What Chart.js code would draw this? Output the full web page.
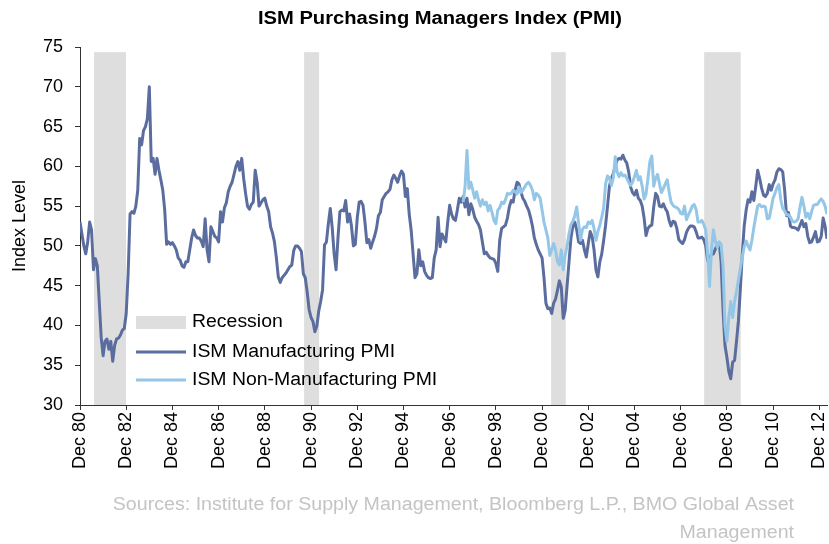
<!DOCTYPE html>
<html>
<head>
<meta charset="utf-8">
<script src="https://cdn.jsdelivr.net/npm/chart.js@4/dist/chart.umd.min.js"></script>
<style>
  html, body { margin: 0; padding: 0; background: #fff; }
  #wrap { width: 829px; height: 544px; }
</style>
</head>
<body>
<div id="wrap"><canvas id="pmiChart" width="829" height="544"></canvas></div>
<script>
// months counted from Dec 1980 (index 0) to Apr 2013 (index 388)
const tickLabels = ['Dec 80', 'Dec 82', 'Dec 84', 'Dec 86', 'Dec 88', 'Dec 90', 'Dec 92', 'Dec 94',
    'Dec 96', 'Dec 98', 'Dec 00', 'Dec 02', 'Dec 04', 'Dec 06', 'Dec 08', 'Dec 10', 'Dec 12'];

// recession bands, in months from Dec 1980
const recessionStart = [7.3, 116.4, 244.7, 324.2];
const recessionEnd = [23.9, 124.2, 252.3, 343.2];

// ISM Manufacturing PMI, Dec 1980 .. Apr 2013
const mfgPmi = [
    53.0,
    51.5, 50.0, 49.0, 50.5, 53.0, 52.0, 47.0, 48.4, 47.5, 43.0, 38.5, 36.2,   // 81
    38.0, 38.3, 37.0, 38.0, 35.5, 37.5, 38.3, 38.4, 38.8, 39.4, 39.6, 41.5,   // 82
    46.5, 54.0, 54.3, 54.1, 55.0, 57.0, 63.5, 62.7, 64.5, 65.0, 66.0, 70.0,   // 83
    60.6, 61.0, 59.0, 61.0, 59.5, 58.3, 57.0, 54.5, 50.2, 50.5, 50.2, 50.4,   // 84
    50.0, 49.5, 48.5, 48.2, 47.5, 47.3, 48.0, 48.0, 49.5, 51.0, 52.0, 51.3,   // 85
    51.0, 51.0, 50.6, 49.9, 53.4, 49.5, 48.0, 52.4, 51.8, 51.2, 51.0, 50.5,   // 86
    54.3, 53.0, 54.8, 55.4, 56.8, 57.5, 58.0, 59.0, 60.0, 60.6, 59.5, 61.0,   // 87
    58.5, 56.6, 55.0, 54.6, 55.2, 55.5, 59.5, 58.0, 55.0, 55.4, 55.8, 56.0,   // 88
    55.0, 54.3, 52.4, 51.6, 50.5, 48.5, 46.1, 45.4, 46.0, 46.3, 46.6, 47.0,   // 89
    47.4, 47.6, 49.4, 50.0, 50.0, 49.7, 49.3, 46.5, 46.0, 44.2, 42.0, 41.0,   // 90
    40.5, 39.2, 39.9, 41.8, 43.0, 44.5, 50.1, 50.5, 52.8, 54.7, 52.3, 49.0,   // 91
    47.0, 51.0, 54.3, 54.5, 54.4, 55.7, 53.0, 54.0, 52.5, 50.0, 50.2, 53.5,   // 92
    55.5, 55.6, 55.1, 53.0, 50.4, 50.8, 49.7, 50.5, 51.2, 52.2, 53.8, 54.2,   // 93
    55.8, 56.2, 56.6, 56.8, 57.1, 58.3, 58.9, 58.5, 58.0, 58.8, 59.4, 59.0,   // 94
    56.2, 57.2, 54.0, 52.0, 49.0, 46.0, 46.5, 49.5, 47.5, 48.0, 46.8, 46.3,   // 95
    46.0, 45.9, 46.0, 48.5, 49.5, 53.6, 49.9, 51.5, 51.0, 50.5, 53.0, 55.1,   // 96
    54.0, 53.4, 53.2, 54.5, 56.0, 55.5, 56.2, 54.9, 56.0, 53.9, 55.3, 54.6,   // 97
    53.6, 53.1, 52.7, 52.0, 50.5, 49.0, 49.2, 48.8, 48.5, 48.4, 48.3, 47.8,   // 98
    46.8, 50.7, 52.2, 52.4, 52.6, 53.5, 54.9, 55.7, 55.5, 57.0, 58.0, 57.8,   // 99
    56.8, 56.0, 55.6, 55.0, 54.5, 53.6, 52.5, 51.0, 50.2, 49.5, 49.0, 48.5,   // 00
    46.0, 42.8, 42.1, 42.2, 41.5, 42.8, 43.3, 44.4, 45.6, 44.8, 40.9, 41.9,   // 01
    45.0, 48.0, 51.0, 52.5, 53.0, 52.0, 50.5, 50.3, 50.7, 49.5, 48.6, 50.3,   // 02
    51.8, 51.2, 49.5, 47.0, 46.1, 48.0, 49.0, 50.7, 52.6, 55.0, 57.5, 58.5,   // 03
    59.1, 60.0, 60.8, 61.0, 60.9, 61.4, 60.8, 60.4, 59.3, 57.4, 56.7, 56.4,   // 04
    57.0, 56.0, 55.7, 55.0, 53.5, 51.3, 52.2, 52.5, 52.6, 54.9, 56.6, 56.2,   // 05
    55.0, 54.9, 55.3, 54.7, 54.3, 53.2, 52.5, 53.1, 53.0, 52.2, 50.8, 50.5,   // 06
    50.3, 50.8, 51.7, 52.2, 52.5, 52.5, 52.4, 51.8, 51.0, 51.0, 51.1, 50.8,   // 07
    50.0, 48.2, 48.5, 48.9, 49.0, 49.6, 50.2, 50.4, 48.0, 42.0, 37.5, 36.0,   // 08
    34.2, 33.3, 35.4, 35.6, 38.0, 40.6, 44.6, 49.0, 52.5, 54.5, 55.8, 55.5,   // 09
    56.8, 55.7, 57.5, 59.5, 58.5, 57.3, 56.4, 56.2, 56.6, 57.7, 57.0, 57.8,   // 10
    58.3, 59.3, 59.7, 59.6, 59.3, 57.0, 53.8, 54.2, 52.5, 52.3, 52.3, 52.2,   // 11
    52.0, 52.6, 53.2, 52.4, 52.8, 51.2, 50.4, 50.5, 51.1, 51.8, 50.5, 50.6,   // 12
    51.2, 53.5, 52.5, 50.9                                                    // 13
];

// ISM Non-Manufacturing PMI, Jul 1997 .. Apr 2013
const nonMfgStart = 199;
const nonMfgPmi = [
    55.5, 57.4, 62.0, 57.2, 58.0, 57.0,                                       // 97
    56.0, 56.8, 55.8, 55.0, 55.8, 55.2, 55.5, 54.4, 55.1, 54.2, 53.2, 52.8,   // 98
    54.5, 54.8, 55.5, 55.3, 55.8, 56.6, 56.5, 56.6, 57.0, 56.8, 56.5, 57.4,   // 99
    56.7, 57.0, 57.4, 57.8, 58.0, 57.6, 57.0, 55.8, 56.6, 56.4, 56.0, 54.5,   // 00
    53.0, 52.0, 51.0, 48.8, 49.5, 50.3, 49.5, 48.0, 47.6, 49.5, 47.0, 48.8,   // 01
    50.0, 51.5, 52.7, 53.1, 53.8, 54.9, 52.8, 50.7, 52.1, 52.4, 52.3, 53.0,   // 02
    52.8, 53.2, 52.2, 50.7, 51.8, 52.6, 53.6, 54.8, 57.8, 58.8, 58.5, 57.6,   // 03
    58.5, 61.2, 59.3, 58.7, 59.2, 58.8, 58.9, 58.5, 58.0, 57.6, 58.0, 58.7,   // 04
    59.5, 58.3, 58.7, 57.5, 55.9, 56.5, 58.5, 60.6, 61.3, 57.5, 58.5, 59.0,   // 05
    57.8, 56.7, 57.2, 57.8, 58.3, 56.8, 55.5, 55.1, 54.9, 54.8, 54.6, 54.1,   // 06
    54.0, 55.0, 53.3, 53.9, 54.4, 55.0, 55.2, 54.6, 53.0, 53.0, 53.2, 52.7,   // 07
    52.0, 49.0, 44.9, 49.5, 52.0, 50.6, 49.8, 50.5, 50.2, 47.5, 40.0, 38.0,   // 08
    41.0, 43.0, 41.0, 43.0, 44.3, 45.7, 47.2, 48.6, 49.9, 50.6, 50.0, 49.5,   // 09
    50.7, 52.3, 53.7, 55.0, 55.2, 54.9, 55.0, 54.9, 53.4, 53.5, 54.7, 56.0,   // 10
    56.6, 57.3, 57.7, 55.8, 54.7, 54.4, 53.9, 53.9, 53.6, 53.1, 53.0, 53.1,   // 11
    53.4, 54.9, 56.1, 55.0, 53.6, 54.1, 53.4, 54.3, 55.1, 55.2, 55.2, 55.6,   // 12
    55.9, 55.6, 55.0, 54.0                                                    // 13
];

const FONT = "'Liberation Sans', Arial, sans-serif";
const DARK = '#5A6D9E';
const LIGHT = '#94C7E7';
const GREY_BAND = '#DEDEDE';

const mfgPoints = mfgPmi.map((v, i) => ({x: i, y: v}));
const nonMfgPoints = nonMfgPmi.map((v, i) => ({x: i + nonMfgStart, y: v}));

// grey recession bands behind the lines
const recessionBands = {
    id: 'recessionBands',
    beforeDatasetsDraw(chart) {
        const {ctx, scales: {x, y}} = chart;
        ctx.save();
        ctx.fillStyle = GREY_BAND;
        for (let i = 0; i < recessionStart.length; i++) {
            const x0 = x.getPixelForValue(recessionStart[i]);
            const x1 = x.getPixelForValue(recessionEnd[i]);
            const top = y.getPixelForValue(74.35);
            const bottom = y.getPixelForValue(30);
            ctx.fillRect(x0, top, x1 - x0, bottom - top);
        }
        ctx.restore();
    }
};

// the reference text is a little wider than the font, so stretch it a bit
function wideText(ctx, text, x, y, stretch) {
    ctx.save();
    ctx.translate(x, y);
    ctx.scale(stretch, 1);
    ctx.fillText(text, 0, 0);
    ctx.restore();
}

// title, legend inside the plot and the sources note
const decorations = {
    id: 'decorations',
    afterDraw(chart) {
        const ctx = chart.ctx;
        ctx.save();

        ctx.fillStyle = '#000';
        ctx.font = 'bold 18px ' + FONT;
        ctx.textAlign = 'center';
        ctx.textBaseline = 'middle';
        wideText(ctx, 'ISM Purchasing Managers Index (PMI)', 440, 19, 1.12);

        // legend
        const lx = 136, tx = 192;
        ctx.font = '18px ' + FONT;
        ctx.textAlign = 'left';
        ctx.fillStyle = GREY_BAND;
        ctx.fillRect(lx, 316, 50, 13);
        ctx.fillStyle = '#000';
        wideText(ctx, 'Recession', tx, 322, 1.08);

        ctx.lineWidth = 3;
        ctx.strokeStyle = DARK;
        ctx.beginPath();
        ctx.moveTo(lx, 352);
        ctx.lineTo(lx + 50, 352);
        ctx.stroke();
        wideText(ctx, 'ISM Manufacturing PMI', tx, 352, 1.08);

        ctx.strokeStyle = LIGHT;
        ctx.beginPath();
        ctx.moveTo(lx, 380);
        ctx.lineTo(lx + 50, 380);
        ctx.stroke();
        wideText(ctx, 'ISM Non-Manufacturing PMI', tx, 380, 1.08);

        // sources
        ctx.fillStyle = '#C4C4C4';
        ctx.textAlign = 'right';
        wideText(ctx, 'Sources: Institute for Supply Management, Bloomberg L.P., BMO Global Asset', 794, 505, 1.09);
        wideText(ctx, 'Management', 794, 533, 1.09);

        ctx.restore();
    }
};

const ctx = document.getElementById('pmiChart').getContext('2d');
const pmiChart = new Chart(ctx, {
    type: 'line',
    data: {
        datasets: [
            {
                label: 'ISM Manufacturing PMI',
                data: mfgPoints,
                borderColor: DARK,
                borderWidth: 3,
                pointRadius: 0,
                borderJoinStyle: 'round',
                order: 1
            },
            {
                label: 'ISM Non-Manufacturing PMI',
                data: nonMfgPoints,
                borderColor: LIGHT,
                borderWidth: 3,
                pointRadius: 0,
                borderJoinStyle: 'round',
                order: 0
            }
        ]
    },
    options: {
        responsive: false,
        animation: false,
        layout: {padding: {top: 47, right: 2, left: 0, bottom: 0}},
        plugins: {
            legend: {display: false},
            title: {display: false},
            tooltip: {enabled: false}
        },
        scales: {
            x: {
                type: 'linear',
                min: 0,
                max: 388,
                afterFit: (scale) => {
                    scale.height = 139;
                    scale.paddingLeft = 0;
                    scale.paddingRight = 0;
                },
                grid: {drawOnChartArea: false, drawTicks: true, tickLength: 5, color: '#333'},
                border: {display: true, color: '#333'},
                ticks: {
                    stepSize: 24,
                    includeBounds: false,
                    autoSkip: false,
                    minRotation: 90,
                    maxRotation: 90,
                    padding: 2,
                    color: '#000',
                    font: {family: FONT, size: 18},
                    callback: (v) => tickLabels[v / 24]
                }
            },
            y: {
                min: 30,
                max: 75,
                afterFit: (scale) => {
                    scale.width = 80;
                    scale.paddingTop = 0;
                    scale.paddingBottom = 0;
                },
                grid: {drawOnChartArea: false, drawTicks: true, tickLength: 5, color: '#333'},
                border: {display: true, color: '#333'},
                ticks: {
                    stepSize: 5,
                    padding: 12,
                    color: '#000',
                    font: {family: FONT, size: 18}
                },
                title: {
                    display: true,
                    text: 'Index Level',
                    color: '#000',
                    font: {family: FONT, size: 18},
                    padding: {top: 9, bottom: 0}
                }
            }
        }
    },
    plugins: [recessionBands, decorations]
});
</script>
</body>
</html>
